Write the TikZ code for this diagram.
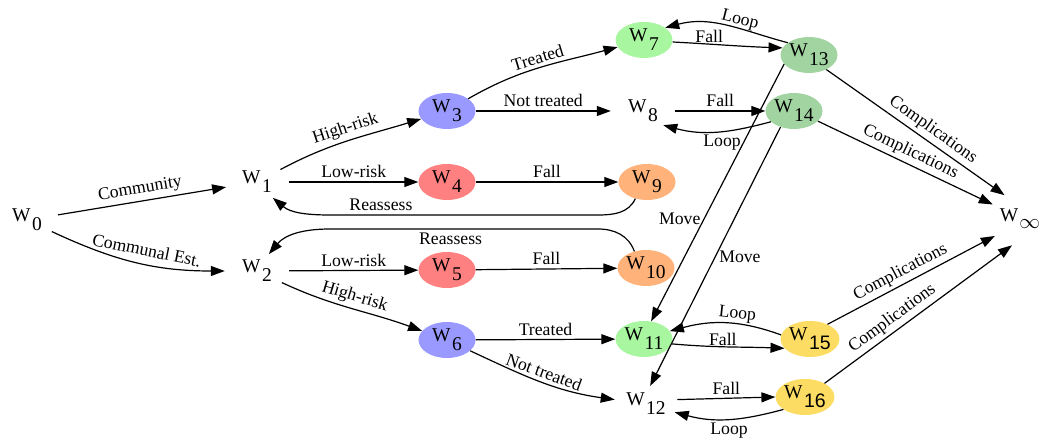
\documentclass[tikz,border=0pt]{standalone}
\usepackage{fontspec}
\setmainfont{Liberation Serif}
\setsansfont{Liberation Sans}
\usetikzlibrary{arrows.meta,shapes.geometric}
\definecolor{highblue}{RGB}{153,153,255}
\definecolor{lowred}{RGB}{255,128,128}
\definecolor{treatgreen}{RGB}{168,247,160}
\definecolor{fallorange}{RGB}{255,178,122}
\definecolor{movegreen}{RGB}{162,212,162}
\definecolor{loopyellow}{RGB}{253,220,100}
\newcommand{\wstate}[1]{W\kern1.5pt\raisebox{-9pt}{#1}}
\newcommand{\wstatesf}[1]{W\kern1.5pt\raisebox{-9pt}{\sffamily #1}}
\tikzset{
>={Triangle[length=14pt,width=10pt]},
main node/.style={ellipse,inner sep=0pt,minimum width=57pt,minimum height=36pt,font=\fontsize{19.5}{20}\selectfont},
bare node/.style={main node,minimum width=64pt},
arco/.style={->,line width=1.2pt}}

\begin{document}
\begin{tikzpicture}[x=1pt,y=1pt,font=\fontsize{17.7}{20}\selectfont]
\useasboundingbox (0,0) rectangle (1048,441);

\node[bare node] (0) at (27,221) {\wstate{0}};
\node[bare node] (1) at (257,259) {\wstate{1}};
\node[bare node] (2) at (257,170) {\wstate{2}};
\node[main node,fill=highblue] (3) at (447,330) {\wstate{3}};
\node[main node,fill=lowred] (4) at (447,259) {\wstate{4}};
\node[main node,fill=lowred] (5) at (447,171) {\wstate{5}};
\node[main node,fill=highblue] (6) at (447,101) {\wstate{6}};
\node[main node,fill=treatgreen] (7) at (644,401) {\wstate{7}};
\node[bare node] (8) at (643,330) {\wstate{8}};
\node[main node,fill=fallorange] (9) at (647,259) {\wstate{9}};
\node[main node,fill=fallorange] (10) at (646,173) {\wstate{10}};
\node[main node,fill=treatgreen] (11) at (644,102) {\wstate{11}};
\node[bare node] (12) at (646,37) {\wstate{12}};
\node[main node,fill=movegreen] (13) at (809,386) {\wstate{13}};
\node[main node,fill=movegreen] (14) at (794,330) {\wstate{14}};
\node[main node,fill=loopyellow] (15) at (810,102) {\wstatesf{15}};
\node[main node,fill=loopyellow] (16) at (805,44) {\wstatesf{16}};
\node[bare node,minimum height=54pt] (inf) at (1020,222) {W\kern1pt\raisebox{-7pt}{$\infty$}};

% entry and risk split
\path[arco] (0) edge node[above,sloped] {Community} (1);
\path[arco] (0) edge[out=-25,in=180] node[above=4pt,sloped,pos=0.55] {Communal Est.} (2);
\path[arco] (1) edge[out=28,in=197] node[above,sloped] {High-risk} (3);
\path[arco] (1) edge node[above] {Low-risk} (4);
\path[arco] (2) edge node[above] {Low-risk} (5);
\path[arco] (2) edge[out=-25,in=160] node[above,sloped] {High-risk} (6);
\path[arco] (3) edge[out=30,in=195] node[above,sloped] {Treated} (7);
\path[arco] (3) edge node[above] {Not treated} (8);
\path[arco] (4) edge node[above] {Fall} (9);
\path[arco] (5) edge node[above] {Fall} (10);
\path[arco] (6) edge node[above] {Treated} (11);
\path[arco] (6) edge[out=-25,in=172] node[above,sloped] {Not treated} (12);

% back to W1 and W2
\draw[arco] (9.235) to[out=245,in=0] (598,226) -- node[above,pos=0.81] {Reassess} (330,226) to[out=180,in=-40] (1.-45);
\draw[arco] (10.125) to[out=110,in=0] (598,212) -- node[below,pos=0.55] {Reassess} (330,212) to[out=180,in=50] (2.55);

% falls and loops
\path[arco] (7.-4) edge[out=-3,in=178] node[above,inner sep=1pt,pos=0.32] {Fall} (13.165);
\path[arco] (13.150) edge[out=165,in=15] node[above,sloped,inner sep=0pt,pos=0.4] {Loop} (7.30);
\path[arco] (8) edge node[above] {Fall} (14);
\path[arco] (14.205) edge[out=195,in=-15] node[below,pos=0.45] {Loop} (8.-35);
\path[arco] (11.-10) edge[out=-5,in=178] node[above,inner sep=1pt,pos=0.45] {Fall} (15.200);
\path[arco] (15.172) edge[out=160,in=15] node[above,sloped,inner sep=1pt,pos=0.4] {Loop} (11.17);
\path[arco] (12.8) edge node[above] {Fall} (16.west);
\path[arco] (16.210) edge[out=195,in=-15] node[below] {Loop} (12.-16);

% moves
\path[arco] (13.200) edge node[left,pos=0.6] {Move} (11.68);
\path[arco] (14.230) edge node[right] {Move} (12.77);

% complications
\path[arco] (13.-40) edge node[above,sloped,pos=0.56] {Complications} (inf.123);
\path[arco] (14.-23) edge node[above,sloped] {Complications} (inf.152);
\path[arco] (15.40) edge node[above,sloped,pos=0.47] {Complications} (inf.214);
\path[arco] (16.35) edge node[above,sloped,pos=0.4] {Complications} (inf.253);

\end{tikzpicture}
\end{document}
